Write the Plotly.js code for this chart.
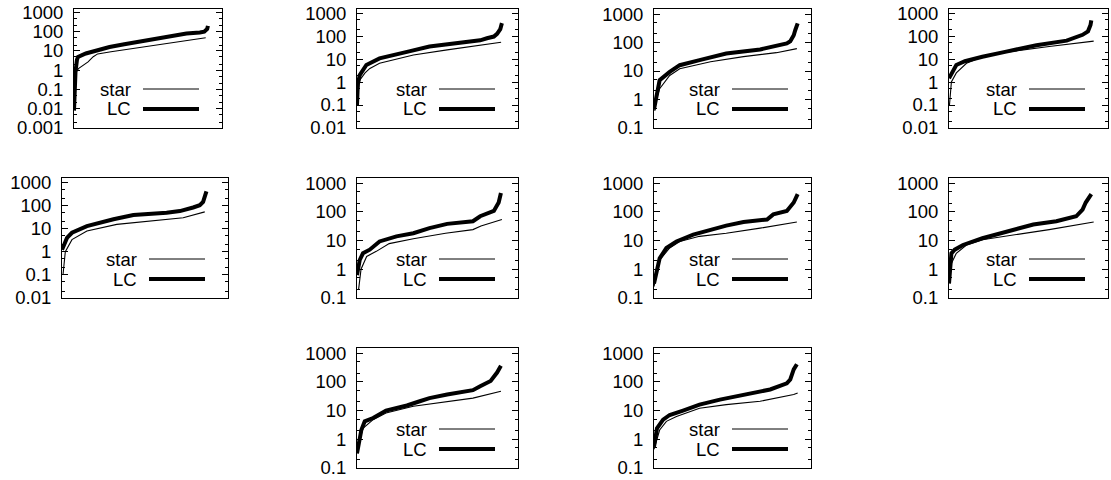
<!DOCTYPE html>
<html><head><meta charset="utf-8">
<script src="https://cdn.plot.ly/plotly-3.0.1.min.js"></script>
<style>html,body{margin:0;padding:0;background:#fff}</style>
</head><body><div id="chart" style="width:1111px;height:480px"></div>
<script>
// ---- data (x = rank position in %, y = value) ----
const seriesNames = ["star", "LC"];
const tickLabels = ["0.001", "0.01", "0.1", "1", "10", "100", "1000"];
const tickValues = [0.001, 0.01, 0.1, 1, 10, 100, 1000];
const yBottoms = [0.001, 0.01, 0.1, 0.01, 0.01, 0.1, 0.1, 0.1, 0.1, 0.1];
const yTop = 1500;

const star1X = [0, 0.5, 1.5, 3, 6, 9.5, 13, 16, 25, 40, 62, 75, 89];
const star1Y = [0.05, 0.2, 0.8, 1.2, 1.8, 2.7, 5, 7, 9, 13.5, 24, 33, 48];
const lc1X = [0, 0.4, 1, 2, 2.7, 8, 16, 24, 34, 44, 53, 62, 70, 76, 85, 88, 90, 90.5];
const lc1Y = [0.008, 0.05, 0.8, 3.5, 4.9, 7.4, 11, 16, 22, 30, 38, 50, 60, 80, 91, 100, 140, 200];

const star2X = [0.5, 1.7, 5, 8, 14, 35, 56, 89.5];
const star2Y = [0.3, 1.2, 2.5, 3.9, 6.5, 15, 25, 54];
const lc2X = [0, 0.5, 1.7, 5.8, 14, 22, 33, 45, 60, 72, 76.5, 80.7, 85, 87, 89, 90];
const lc2Y = [0.1, 0.8, 2, 5.5, 10.7, 15, 22, 35, 47, 57, 65, 80, 95, 125, 200, 365];

const star3X = [0.5, 1, 3.6, 10, 16.4, 36, 57, 78, 91];
const star3Y = [0.4, 0.8, 2.4, 7, 12, 21, 32, 44, 61];
const lc3X = [0, 1, 3.6, 10, 16.4, 29, 46, 67.6, 76, 84.6, 86.8, 89, 90, 91.5];
const lc3Y = [0.45, 1, 4.8, 9.3, 16, 24, 41, 57, 70, 93, 110, 180, 275, 470];

const star4X = [0.3, 1.5, 4.6, 11, 21, 36, 63, 91];
const star4Y = [0.1, 1, 2.5, 6.5, 12.6, 20, 35, 60];
const lc4X = [0, 2.5, 4.6, 10, 21, 36, 55, 74, 84, 87.4, 89, 89.5];
const lc4Y = [1.45, 2.8, 5.5, 8, 12.6, 21, 40, 63, 113, 160, 300, 480];

const star5X = [0.6, 2, 6, 15, 33, 53, 73, 86];
const star5Y = [0.1, 1, 3.3, 7.7, 15, 21, 29, 52];
const lc5X = [0, 3, 6, 15, 31, 43, 63, 71, 79, 83, 85, 87];
const lc5Y = [1.2, 3.9, 6.5, 12.6, 25, 38, 48, 56, 80, 100, 140, 400];

const star6X = [1, 2.5, 6, 12, 20, 35, 55, 72, 77, 90];
const star6Y = [0.2, 1, 2.8, 4.2, 7.8, 11.6, 18, 24, 32, 54];
const lc6X = [0, 1.7, 3.7, 7.9, 14, 24.5, 35, 45, 56, 72, 76.5, 85, 88, 89.4];
const lc6Y = [0.63, 2.1, 3.6, 4.8, 9.3, 14, 18, 27, 38, 47, 70, 107, 210, 450];

const star7X = [0, 3.6, 10, 16.4, 29, 46, 67.6, 91];
const star7Y = [0.25, 2.1, 5.5, 9.3, 14, 18, 27, 44];
const lc7X = [0, 1.9, 3.6, 7.9, 14.3, 25, 35.6, 46, 57, 72, 76, 84.6, 89, 91.5];
const lc7Y = [0.32, 0.93, 2.4, 5.5, 9.3, 16, 24, 33, 44, 54, 81, 107, 210, 410];

const star8X = [0, 1.5, 4.6, 11, 21, 42, 63, 91];
const star8Y = [0.4, 1.6, 3.6, 7, 10.7, 16, 24, 44];
const lc8X = [0, 1.5, 3.6, 8.8, 21, 32, 42, 53, 67.5, 80, 84, 86, 89.5];
const lc8Y = [0.32, 3.6, 4.8, 7, 12, 18, 25, 36, 47, 70, 120, 210, 410];

const star9X = [0, 3.7, 10, 18, 35, 56, 72, 89.4];
const star9Y = [0.4, 2.4, 4.8, 8.2, 14, 21, 27, 47];
const lc9X = [0, 2.7, 4.8, 10, 18, 31, 39, 45, 56, 72, 76.5, 83, 87, 89.4];
const lc9Y = [0.32, 2.1, 4.2, 5.5, 10, 15, 21, 27, 36, 51, 70, 107, 210, 360];

const star10X = [0, 3.6, 7.9, 14.3, 29, 46, 67.6, 89, 91.5];
const star10Y = [0.45, 2.1, 4.2, 6.2, 12, 16, 21, 36, 41];
const lc10X = [0, 1.9, 5.8, 10, 18.5, 29, 42, 57, 74, 84.6, 86.8, 89, 91];
const lc10Y = [0.55, 2.4, 4.8, 7, 10, 16, 24, 36, 54, 88, 120, 270, 410];

const starXs = [star1X, star2X, star3X, star4X, star5X, star6X, star7X, star8X, star9X, star10X];
const starYs = [star1Y, star2Y, star3Y, star4Y, star5Y, star6Y, star7Y, star8Y, star9Y, star10Y];
const lcXs = [lc1X, lc2X, lc3X, lc4X, lc5X, lc6X, lc7X, lc8X, lc9X, lc10X];
const lcYs = [lc1Y, lc2Y, lc3Y, lc4Y, lc5Y, lc6Y, lc7Y, lc8Y, lc9Y, lc10Y];

// ---- layout (pixel boxes: left, right, top, bottom) ----
const W = 1111, H = 480;
const boxes = [
  [74, 222, 9, 128], [357, 518, 9, 128], [654, 811, 9, 128], [949, 1108, 9, 128],
  [62, 228, 178, 298], [357, 518, 178, 298], [654, 811, 178, 298], [949, 1108, 178, 298],
  [357, 518, 348, 468], [654, 811, 348, 468]
];
const FONT = {family: "Liberation Sans, Arial, sans-serif", size: 18.5, color: "#000"};

const traces = [];
const layout = {
  width: W, height: H, margin: {l: 0, r: 0, t: 0, b: 0},
  paper_bgcolor: "#fff", plot_bgcolor: "#fff", showlegend: false,
  font: FONT, shapes: [], annotations: []
};

for (let i = 0; i < boxes.length; i++) {
  const [x0, x1, y0, y1] = boxes[i];
  const sfx = i === 0 ? "" : String(i + 1);
  const xa = "x" + sfx, ya = "y" + sfx;
  traces.push({x: starXs[i], y: starYs[i], xaxis: xa, yaxis: ya, mode: "lines",
    name: seriesNames[0], line: {color: "#000", width: 1.1}, hoverinfo: "skip"});
  traces.push({x: lcXs[i], y: lcYs[i], xaxis: xa, yaxis: ya, mode: "lines",
    name: seriesNames[1], line: {color: "#000", width: 4}, hoverinfo: "skip"});

  const lo = yBottoms[i];
  const tv = [], tt = [], mv = [];
  for (let k = 0; k < tickValues.length; k++) {
    if (tickValues[k] >= lo - 1e-12) { tv.push(tickValues[k]); tt.push(tickLabels[k]); }
  }
  for (let d = Math.round(Math.log10(lo)); d < 4; d++) {
    [2, 5].forEach(m => { const v = m * Math.pow(10, d); if (v < yTop) mv.push(v); });
  }
  layout["xaxis" + sfx] = {
    domain: [x0 / W, x1 / W], range: [0, 100], anchor: ya,
    showline: true, mirror: true, linecolor: "#000", linewidth: 1,
    showticklabels: false, ticks: "", showgrid: false, zeroline: false, fixedrange: true
  };
  layout["yaxis" + sfx] = {
    type: "log", domain: [1 - y1 / H, 1 - y0 / H],
    range: [Math.log10(lo), Math.log10(yTop)], anchor: xa,
    tickmode: "array", tickvals: tv, ticktext: tt,
    ticks: "inside", ticklen: 6, tickwidth: 1, tickcolor: "#000",
    minor: {tickmode: "array", tickvals: mv, ticks: "inside", ticklen: 3, tickcolor: "#000", showgrid: false},
    showline: true, mirror: "ticks", linecolor: "#000", linewidth: 1,
    showgrid: false, zeroline: false, tickfont: FONT, ticklabelstandoff: 6, fixedrange: true
  };

  // legend key (gnuplot style: label, then sample to its right)
  const w = x1 - x0;
  const sEnd = (w - 23) / w, sStart = (w - 23 - 56) / w, tEnd = (w - 23 - 56 - 10) / w;
  const h = y1 - y0;
  const yStar = 39 / h, yLC = 19 / h;
  [[yStar, 1, seriesNames[0]], [yLC, 4, seriesNames[1]]].forEach(([yy, lw, label]) => {
    layout.shapes.push({type: "line", xref: xa + " domain", yref: ya + " domain",
      x0: sStart, x1: sEnd, y0: yy, y1: yy, line: {color: "#000", width: lw}});
    layout.annotations.push({xref: xa + " domain", yref: ya + " domain", x: tEnd, y: yy,
      xanchor: "right", yanchor: "middle", text: label, showarrow: false, font: FONT});
  });
}

Plotly.newPlot("chart", traces, layout, {displayModeBar: false, staticPlot: true});
</script>
</body></html>
